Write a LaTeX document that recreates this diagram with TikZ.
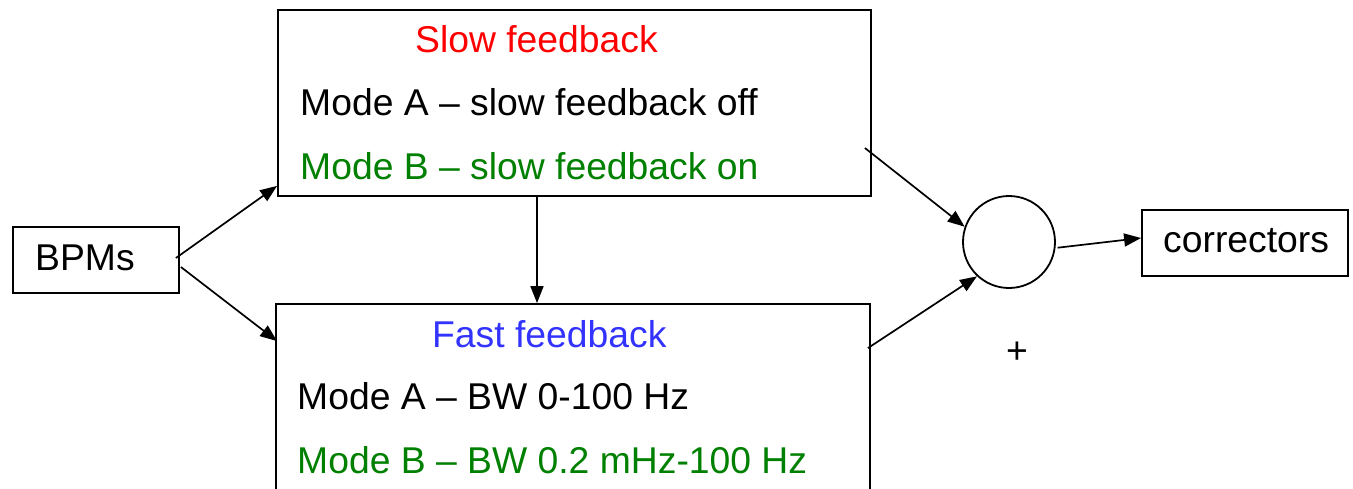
\documentclass[tikz,border=0pt]{standalone}
\usepackage{fontspec}
\setmainfont{Liberation Sans}
\usetikzlibrary{arrows.meta,calc}
\definecolor{sfred}{RGB}{255,0,0}
\definecolor{modegreen}{RGB}{0,128,0}
\definecolor{ffblue}{RGB}{51,51,255}
\begin{document}
\begin{tikzpicture}[x=1pt,y=-1pt,
  box/.style={draw,line width=1.8pt,inner sep=0pt,rectangle},
  lbl/.style={anchor=base west,inner sep=0pt,font=\fontsize{37.3}{42}\selectfont},
  conn/.style={line width=1.7pt,-{Triangle[length=17pt,width=13pt]}}]
\useasboundingbox (0,0) rectangle (1353,488);
\clip (0,0) rectangle (1353,488);
\fill[white] (0,0) rectangle (1353,488);
% boxes
\node[box,minimum width=166pt,minimum height=66pt] (bpm) at (96,260) {};
\node[box,minimum width=593pt,minimum height=186pt] (slow) at (574.5,103) {};
\node[box,minimum width=594pt,minimum height=296pt] (fast) at (573,452) {};
\node[box,circle,minimum size=92pt] (sum) at (1009,242) {};
\node[box,minimum width=206pt,minimum height=66pt] (corr) at (1245,243) {};
% texts
\node[lbl] (bpmt) at (35,270) {BPMs};
\node[lbl,text=sfred] (slowt) at (415,52) {Slow feedback};
\node[lbl] (slowa) at (300,115) {Mode A – slow feedback off};
\node[lbl,text=modegreen] (slowb) at (300,179) {Mode B – slow feedback on};
\node[lbl,text=ffblue] (fastt) at (432,347) {Fast feedback};
\node[lbl] (fasta) at (297,409) {Mode A – BW 0-100 Hz};
\node[lbl,text=modegreen] (fastb) at (297,473) {Mode B – BW 0.2 mHz-100 Hz};
\node[lbl] (corrt) at (1163,252) {correctors};
\node[inner sep=0pt,font=\fontsize{37.3}{42}\selectfont] (plus) at (1017,353) {+};
% connectors
\draw[conn] ($(bpm.east)+(-4,-2)$) -- ($(slow.south west)+(0,-11)$);
\draw[conn] ($(bpm.east)+(1,7)$) -- ($(fast.north west)+(2,38)$);
\draw[conn] ($(slow.south)+(-37.5,0)$) -- ($(fast.north)+(-36,0)$);
\draw[conn] ($(slow.east)+(-7,45)$) -- (sum.161);
\draw[conn] ($(fast.north east)+(-3,45)$) -- (sum.227);
\draw[conn] ($(sum.-7)+(2,0)$) -- ($(corr.west)+(0,-5)$);
\end{tikzpicture}
\end{document}
